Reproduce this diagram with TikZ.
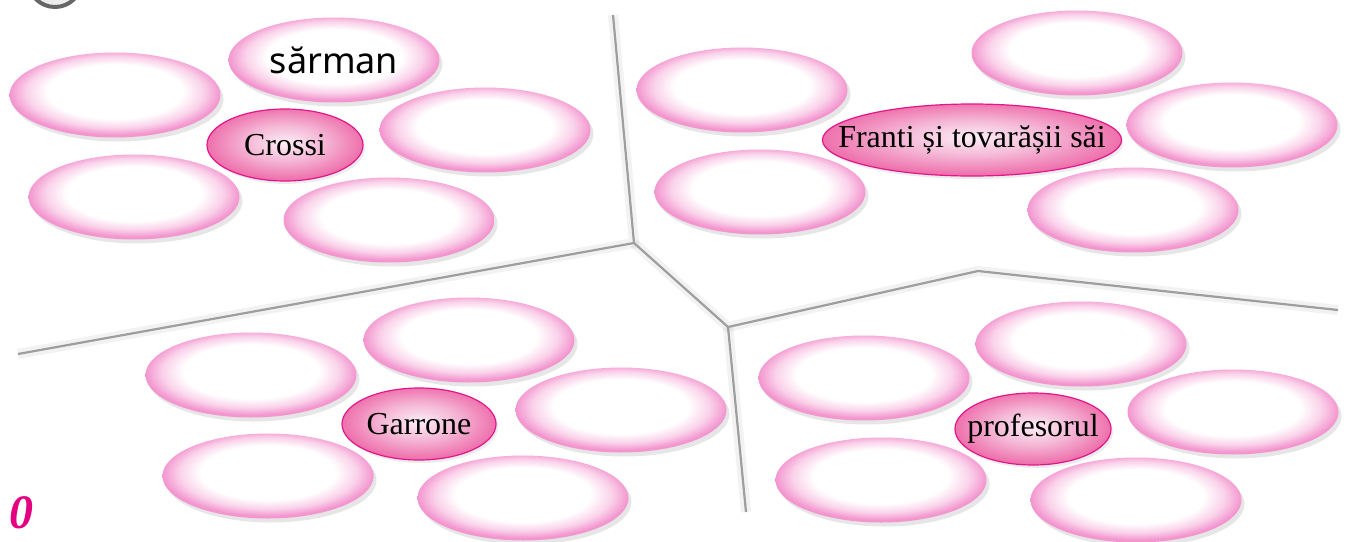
\documentclass[tikz,border=0pt]{standalone}
\usepackage{fontspec}
\setmainfont{Liberation Serif}
\newfontfamily\handfont{Noto Sans}
\usetikzlibrary{shapes.geometric,shadows}

\definecolor{rimpink}{RGB}{243,150,207}
\definecolor{softpink}{RGB}{250,210,234}
\definecolor{deeppink}{RGB}{238,112,172}
\definecolor{midpink}{RGB}{245,185,215}
\definecolor{lightcore}{RGB}{252,238,245}
\definecolor{borderpink}{RGB}{226,22,138}
\definecolor{linegray}{RGB}{158,158,158}
\definecolor{markpink}{RGB}{228,0,128}

\pgfdeclareradialshading{paleoval}{\pgfpoint{0bp}{3bp}}{color(0bp)=(white); color(16bp)=(white); color(21bp)=(softpink); color(25bp)=(rimpink); color(50bp)=(rimpink)}
\pgfdeclareradialshading{darkoval}{\pgfpoint{0bp}{2bp}}{color(0bp)=(lightcore); color(12bp)=(midpink); color(25bp)=(deeppink); color(50bp)=(deeppink)}

\tikzset{
  blank/.style={ellipse, minimum width=105.5pt, minimum height=42.5pt, inner sep=0pt,
    shading=paleoval, drop shadow={opacity=0.2, shadow xshift=1.5pt, shadow yshift=-2pt}},
  keyword/.style={ellipse, minimum height=36pt, inner ysep=0pt, inner xsep=-14pt,
    draw=borderpink, line width=0.6pt, shading=darkoval, font=\fontsize{16}{18}\selectfont,
    drop shadow={opacity=0.15, shadow xshift=1pt, shadow yshift=-1.5pt}},
  divider/.style={draw=linegray, line width=1.1pt},
  dividershade/.style={draw=black, opacity=0.05, line width=5pt}
}

\begin{document}
\begin{tikzpicture}[x=0.5pt,y=-0.5pt]
\useasboundingbox (0,0) rectangle (1355,541);
\clip (0,0) rectangle (1355,541);

% badge cut by the page edge
\draw[fill=gray!15, draw=gray!80!black, line width=2pt] (55,-20) circle[radius=27];

% panel borders
\coordinate (topend) at (613,15);
\coordinate (hubA) at (634,243);
\coordinate (leftend) at (18,354);
\coordinate (hubB) at (728,327);
\coordinate (bend) at (978,271);
\coordinate (rightend) at (1338,310);
\coordinate (bottomend) at (746,512);
\begin{scope}[yshift=-3pt]
\draw[dividershade] (topend) -- (hubA) -- (leftend);
\draw[dividershade] (hubA) -- (hubB) -- (bend) -- (rightend);
\draw[dividershade] (hubB) -- (bottomend);
\end{scope}
\draw[divider] (topend) -- (hubA) -- (leftend);
\draw[divider] (hubA) -- (hubB) -- (bend) -- (rightend);
\draw[divider] (hubB) -- (bottomend);

% empty ovals
\foreach \name/\x/\y in {tl1/115/95, tl3/485/130, tl4/134/197, tl5/389/220,
  tr1/742/90, tr2/1077/53, tr3/1232/125, tr4/760/192, tr5/1133/210,
  bl1/469/340, bl2/251/375, bl3/621/410, bl4/268/476, bl5/523/498,
  br1/1081/344, br2/864/378, br3/1233/412, br4/881/480, br5/1136/500}
  \node[blank] (\name) at (\x,\y) {};
\node[blank, font=\handfont\fontsize{18}{20}\selectfont] (tl2) at (334,60) {sărman};

% names
\node[keyword, minimum width=78pt] (crossi) at (285,145) {Crossi};
\node[keyword, minimum width=149.5pt] (franti) at (972,140) {Franti și tovarășii săi};
\node[keyword, minimum width=77pt] (garrone) at (419,424) {Garrone};
\node[keyword, minimum width=78pt] (prof) at (1033,429) {profesorul};

\node[text=markpink, inner sep=0pt, font=\fontsize{24}{25}\selectfont\bfseries\itshape] (mark) at (22,513) {0};
\end{tikzpicture}
\end{document}
